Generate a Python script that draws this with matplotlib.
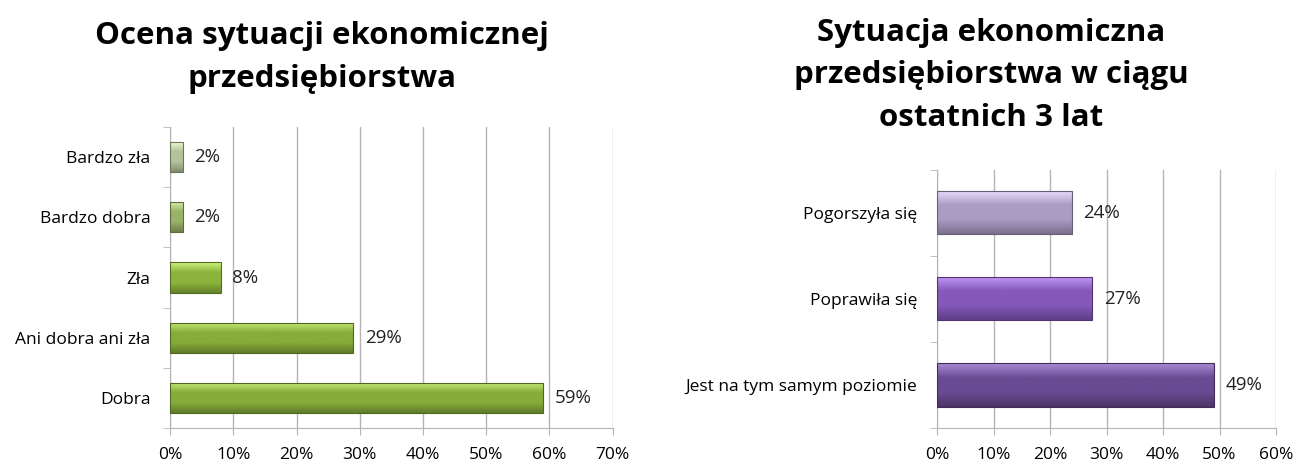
import numpy as np
import matplotlib
matplotlib.use("Agg")
import matplotlib.pyplot as plt
from matplotlib.colors import LinearSegmentedColormap, to_rgb

plt.rcParams.update({"font.family": ["Open Sans", "DejaVu Sans"]})

# ---- data ----
left_title = "Ocena sytuacji ekonomicznej\nprzedsiębiorstwa"
left_cats = ["Dobra", "Ani dobra ani zła", "Zła", "Bardzo dobra", "Bardzo zła"]
left_vals = [59, 29, 8, 2, 2]
left_colors = ["#86ac3a", "#86ac3a", "#8cb43c", "#9ab36a", "#b3c39a"]

right_title = "Sytuacja ekonomiczna\nprzedsiębiorstwa w ciągu\nostatnich 3 lat"
right_cats = ["Jest na tym samym poziomie", "Poprawiła się", "Pogorszyła się"]
right_vals = [49, 27.5, 23.8]
right_labels = ["49%", "27%", "24%"]
right_colors = ["#6a4a92", "#8558bb", "#ab9cc4"]

GRID = "#b4b4b4"
FS = 12.5


def shade(base):
    r, g, b = to_rgb(base)
    light = tuple(min(1, c + 0.25) for c in (r, g, b))
    dark = tuple(c * 0.72 for c in (r, g, b))
    return LinearSegmentedColormap.from_list("s", [dark, (r, g, b), (r, g, b), light])


def draw(ax, cats, vals, labels, colors, xmax, pad):
    y = np.arange(len(cats))
    bars = ax.barh(y, vals, height=0.5, color=colors, edgecolor="none", zorder=3)
    grad = np.linspace(0, 1, 64).reshape(-1, 1)
    for b, c in zip(bars, colors):
        x0, y0, w, h = b.get_x(), b.get_y(), b.get_width(), b.get_height()
        im = ax.imshow(grad, extent=(x0, x0 + w, y0, y0 + h), origin="lower",
                       cmap=shade(c), aspect="auto", zorder=4)
        im.set_clip_path(b)
        r, g, bb = to_rgb(c)
        ax.barh(b.get_y() + h / 2, w, height=h, left=x0, color="none",
                edgecolor=(r * 0.6, g * 0.6, bb * 0.6), lw=0.8, zorder=5)
    for yi, v, t in zip(y, vals, labels):
        ax.text(v + pad, yi, t, va="center", ha="left", fontsize=13.5,
                color="#222222", zorder=6)
    ax.set_xlim(0, xmax)
    ax.set_ylim(-0.5, len(cats) - 0.5)
    ax.set_xticks(np.arange(0, xmax + 1, 10))
    ax.set_xticklabels([f"{t}%" for t in range(0, xmax + 1, 10)], fontsize=FS)
    ax.set_yticks(y)
    ax.set_yticklabels(cats, fontsize=FS)
    ax.set_yticks(np.arange(-0.5, len(cats), 1), minor=True)
    ax.tick_params(axis="y", which="major", length=0, pad=14)
    ax.tick_params(axis="y", which="minor", length=5, color=GRID)
    ax.tick_params(axis="x", length=5, color=GRID, pad=9)
    ax.grid(axis="x", color=GRID, lw=1, zorder=0)
    for s in ["top", "right"]:
        ax.spines[s].set_visible(False)
    for s in ["left", "bottom"]:
        ax.spines[s].set_color(GRID)


fig = plt.figure(figsize=(12.98, 4.66), dpi=100)
ax1 = fig.add_axes([0.131, 0.0815, 0.341, 0.646])
ax2 = fig.add_axes([0.7219, 0.0815, 0.2612, 0.554])

draw(ax1, left_cats, left_vals, [f"{v}%" for v in left_vals], left_colors, 70, 1.8)
draw(ax2, right_cats, right_vals, right_labels, right_colors, 60, 2.0)

fig.text(0.248, 0.955, left_title, ha="center", va="top", fontsize=22.5,
         fontweight="bold", linespacing=1.55)
fig.text(0.7635, 0.962, right_title, ha="center", va="top", fontsize=22.5,
         fontweight="bold", linespacing=1.55)

fig.savefig("out.png", dpi=100)
